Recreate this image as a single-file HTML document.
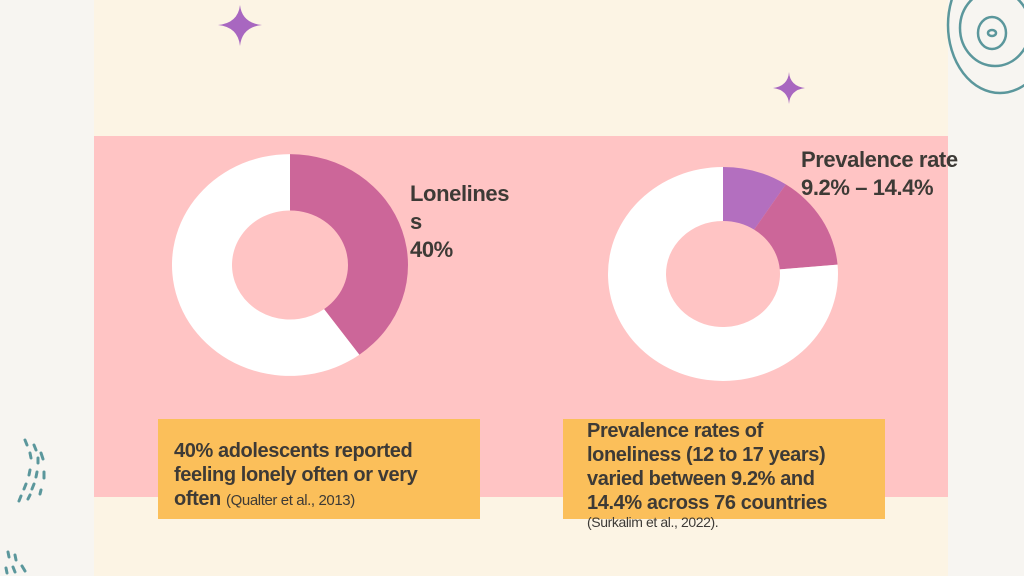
<!DOCTYPE html>
<html><head><meta charset="utf-8"><style>
body{margin:0;width:1024px;height:576px;overflow:hidden;background:#f7f5f1;position:relative;font-family:"Liberation Sans",sans-serif;color:#3d3a36}
.abs{position:absolute}
.t{font-weight:bold;font-size:20px;line-height:24px;letter-spacing:-0.4px}
.small{font-weight:normal;font-size:15px;letter-spacing:-0.4px}
</style></head><body>
<div class="abs" style="left:94px;top:0;width:854px;height:576px;background:#fcf4e4"></div>
<div class="abs" style="left:94px;top:136px;width:854px;height:361px;background:#ffc4c4"></div>
<svg class="abs" style="left:0;top:0" width="1024" height="576">
<g transform="translate(290,265) scale(1,0.94)"><g id="d1"></g></g>
<g transform="translate(723,274) scale(1,0.93)"><g id="d2"></g></g>
<path d="M240 5 Q242 23 262 25 Q242 27 240 46 Q238 27 218 25 Q238 23 240 5Z" fill="#a867c0"/>
<path d="M789 72 Q790 86 805 88 Q790 90 789 104 Q788 90 773 88 Q788 86 789 72Z" fill="#a867c0"/>
<g fill="none" stroke="#5b979c" stroke-width="2.5">
<ellipse cx="992" cy="33" rx="4" ry="3"/><ellipse cx="992" cy="33" rx="14" ry="16"/><ellipse cx="995" cy="28" rx="35" ry="38"/><ellipse cx="1000" cy="25" rx="52" ry="68"/>
</g>
<g stroke="#5b979c" stroke-width="3" stroke-linecap="round">
<line x1="25" y1="440" x2="27" y2="445"/><line x1="30" y1="453" x2="31" y2="458"/><line x1="30" y1="470" x2="29" y2="475"/><line x1="26" y1="484" x2="24" y2="489"/><line x1="21" y1="496" x2="19" y2="501"/>
<line x1="34" y1="445" x2="36" y2="450"/><line x1="38" y1="458" x2="38" y2="463"/><line x1="37" y1="472" x2="36" y2="477"/><line x1="34" y1="484" x2="32" y2="489"/><line x1="30" y1="495" x2="28" y2="499"/>
<line x1="41" y1="453" x2="43" y2="459"/><line x1="44" y1="472" x2="44" y2="478"/><line x1="41" y1="490" x2="40" y2="494"/>
<line x1="8" y1="552" x2="9" y2="557"/><line x1="15" y1="555" x2="16" y2="560"/><line x1="6" y1="568" x2="7" y2="573"/><line x1="13" y1="567" x2="15" y2="572"/><line x1="22" y1="566" x2="25" y2="571"/>
</g>
</svg>
<div class="abs t" style="left:410px;top:180px;font-size:22px;line-height:28px">Lonelines<br>s<br>40%</div>
<div class="abs t" style="left:801px;top:146px;font-size:22px;line-height:28px">Prevalence rate<br>9.2% – 14.4%</div>
<div class="abs t" style="left:158px;top:419px;width:322px;height:100px;background:#fbbf5a;box-sizing:border-box;padding:20px 0 0 16px">40% adolescents reported<br>feeling lonely often or very<br>often <span class="small">(Qualter et al., 2013)</span></div>
<div class="abs t" style="left:563px;top:419px;width:322px;height:100px;background:#fbbf5a;box-sizing:border-box;padding:0 0 0 24px;line-height:24px">Prevalence rates of<br>loneliness (12 to 17 years)<br>varied between 9.2% and<br>14.4% across 76 countries<br><span class="small" style="font-size:14px;line-height:14px;display:block">(Surkalim et al., 2022).</span></div>
<script>
const lonelyValues=[40,60];
const lonelyColors=['#cc6699','#ffffff'];
const prevValues=[9.2,14.4,76.4];
const prevColors=['#b36fbf','#cc6699','#ffffff'];
function arc(cx,cy,R,r,a0,a1){
 const p=(rad,a)=>[cx+rad*Math.sin(a),cy-rad*Math.cos(a)];
 const l=a1-a0>Math.PI?1:0;
 const [x0,y0]=p(R,a0),[x1,y1]=p(R,a1),[x2,y2]=p(r,a1),[x3,y3]=p(r,a0);
 return `M${x0} ${y0}A${R} ${R} 0 ${l} 1 ${x1} ${y1}L${x2} ${y2}A${r} ${r} 0 ${l} 0 ${x3} ${y3}Z`;
}
function donut(id,vals,cols,R,r){
 const g=document.getElementById(id);const tot=vals.reduce((a,b)=>a+b,0);let a=0;
 vals.forEach((v,i)=>{const a1=a+v/tot*2*Math.PI;
  const el=document.createElementNS('http://www.w3.org/2000/svg','path');
  el.setAttribute('d',arc(0,0,R,r,a,a1));el.setAttribute('fill',cols[i]);
  
  
  g.appendChild(el);a=a1;});
}
donut('d1',lonelyValues,lonelyColors,118,58);
donut('d2',prevValues,prevColors,115,57);
</script>
</body></html>
